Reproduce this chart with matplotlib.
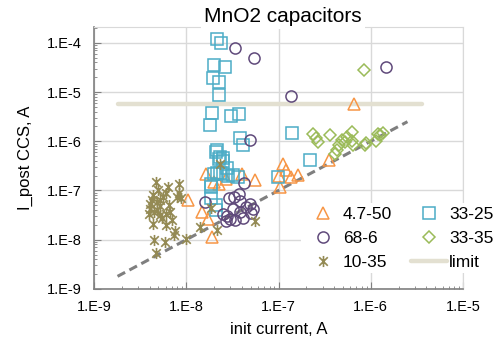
import math
import matplotlib
matplotlib.use('Agg')
import matplotlib.pyplot as plt
from matplotlib.path import Path
from matplotlib.ticker import FixedLocator, FuncFormatter, NullFormatter

plt.rcParams['font.family'] = ['Liberation Sans', 'DejaVu Sans']

# 4.7-50
tri_x = [6.6e-7, 3.56e-7, 1.13e-7, 1.2e-7, 1.0e-7, 1.36e-7, 1.64e-7, 1.04e-7,
         1.64e-8, 2.28e-8, 2.7e-8, 4.0e-8, 5.6e-8, 1.05e-8, 1.47e-8, 1.73e-8,
         1.89e-8, 2.0e-8]
tri_y = [5.7e-6, 4.1e-7, 3.4e-7, 2.57e-7, 1.94e-7, 1.88e-7, 2.03e-7, 1.18e-7,
         2.2e-7, 1.38e-7, 1.74e-7, 2.2e-7, 1.66e-7, 6.3e-8, 3.66e-8, 2.69e-8,
         1.14e-8, 1.49e-7]

# 33-25
sq_x = [2.17e-8, 2.4e-8, 2.0e-8, 2.63e-8, 1.96e-8, 2.25e-8, 2.26e-8, 1.9e-8,
        1.82e-8, 3.05e-8, 3.7e-8, 3.85e-8, 4.1e-8, 1.4e-7, 2.18e-7, 9.95e-8,
        2.14e-8, 2.12e-8, 2.32e-8, 2.48e-8, 2.28e-8, 2.52e-8, 2.74e-8, 2.0e-8,
        2.14e-8, 2.32e-8, 2.52e-8, 2.86e-8, 3.19e-8, 3.67e-8, 1.85e-8, 1.86e-8,
        1.87e-8, 2.1e-8, 2.1e-8]
sq_y = [1.17e-4, 9.8e-5, 3.5e-5, 3.2e-5, 1.89e-5, 1.57e-5, 8.9e-6, 3.7e-6,
        2.17e-6, 3.2e-6, 3.56e-6, 1.16e-6, 8.3e-7, 1.49e-6, 4.1e-7, 1.9e-7,
        6.8e-7, 6.0e-7, 4.9e-7, 4.6e-7, 4.3e-7, 3.95e-7, 2.86e-7, 2.2e-7,
        2.26e-7, 2.26e-7, 2.2e-7, 2.0e-7, 2.1e-7, 1.88e-7, 1.38e-7, 1.15e-7,
        6.9e-8, 5.0e-8, 4.1e-8]

# 68-6
circ_x = [3.4e-8, 5.47e-8, 1.47e-6, 1.37e-7, 4.87e-8, 4.27e-8, 3.76e-8, 3.32e-8,
          2.88e-8, 1.6e-8, 3.83e-8, 4.91e-8, 4.44e-8, 3.19e-8, 3.83e-8, 2.74e-8,
          2.98e-8, 3.38e-8, 2.7e-8, 4.15e-8, 5.33e-8, 5.0e-8, 2.52e-8]
circ_y = [8.0e-5, 5.0e-5, 3.26e-5, 8.3e-6, 1.08e-6, 1.44e-7, 8.4e-8, 7.4e-8,
          6.9e-8, 5.85e-8, 6.0e-8, 5.4e-8, 4.6e-8, 4.16e-8, 3.66e-8, 3.0e-8,
          2.69e-8, 2.57e-8, 2.4e-8, 2.82e-8, 4.3e-8, 3.5e-8, 3.4e-8]

# 33-35
dia_x = [8.4e-7, 2.35e-7, 2.55e-7, 2.66e-7, 3.6e-7, 6.2e-7, 4.84e-7, 6.2e-7,
         4.56e-7, 4.27e-7, 4.1e-7, 6.46e-7, 8.9e-7, 8.6e-7, 1.14e-6, 1.21e-6,
         1.37e-6, 1.26e-6, 5.5e-7, 5.3e-7]
dia_y = [2.83e-5, 1.38e-6, 1.18e-6, 9.6e-7, 1.36e-6, 1.54e-6, 1.08e-6, 1.0e-6,
         8.3e-7, 6.8e-7, 5.6e-7, 8.3e-7, 9.2e-7, 8.3e-7, 1.0e-6, 1.42e-6,
         1.47e-6, 1.32e-6, 1.22e-6, 9.6e-7]

# 10-35
star_x = [4.7e-9, 6.3e-9, 8.3e-9, 6.0e-9, 5.6e-9, 4.3e-9, 4.8e-9, 7.9e-9,
          8.4e-9, 5.2e-9, 4.05e-9, 4.5e-9, 3.98e-9, 5.2e-9, 6.67e-9, 6.95e-9,
          6.1e-9, 7.55e-9, 7.3e-9, 5.9e-9, 4.5e-9, 4.7e-9, 9.9e-9, 4.05e-9,
          4.8e-9, 5.4e-9, 6.1e-9, 5.2e-9, 2.32e-8, 1.84e-8, 1.41e-8, 2.17e-8,
          5.56e-8, 8.8e-9, 5.0e-9, 4.4e-9, 6.5e-9, 4.4e-9]
star_y = [1.49e-7, 1.18e-7, 1.34e-7, 8.9e-8, 7.4e-8, 6.5e-8, 5.85e-8, 7.4e-8,
          8.9e-8, 4.8e-8, 4.3e-8, 3.66e-8, 3.3e-8, 3.16e-8, 3.66e-8, 2.5e-8,
          1.97e-8, 1.5e-8, 1.23e-8, 9.0e-9, 9.8e-9, 5.4e-9, 1.01e-8, 5.4e-8,
          4.0e-8, 2.7e-8, 3.4e-8, 6.3e-8, 3.5e-7, 4.5e-8, 1.82e-8, 1.56e-8,
          2.37e-8, 7.1e-8, 1.0e-7, 8.0e-8, 5.0e-8, 2.1e-8]

limit_x = [1.8e-9, 3.6e-6]
limit_y = [5.6e-6, 5.6e-6]
diag_x = [1.8e-9, 2.5e-6]
diag_y = [1.8e-9, 2.5e-6]

x_ticks = [1e-9, 1e-8, 1e-7, 1e-6, 1e-5]
y_ticks = [1e-9, 1e-8, 1e-7, 1e-6, 1e-5, 1e-4]

# excel-like star: X with a vertical bar
star_marker = Path([(-1, -1), (1, 1), (-1, 1), (1, -1), (0, -1.3), (0, 1.3)],
                   [Path.MOVETO, Path.LINETO, Path.MOVETO, Path.LINETO,
                    Path.MOVETO, Path.LINETO])

fig = plt.figure(figsize=(5, 3.46), dpi=100)
ax = fig.add_axes([0.188, 0.165, 0.738, 0.757])

ax.plot(limit_x, limit_y, color='#e3e0d1', lw=3.2, solid_capstyle='round',
        label='limit', zorder=2)
ax.plot(diag_x, diag_y, color='#7f7f7f', lw=2.2, dashes=(2.8, 1.6), zorder=1)

ms = 8
ax.plot(tri_x, tri_y, ls='none', marker='^', ms=ms, mfc='none', mec='#f79646',
        mew=1.1, label='4.7-50', zorder=3)
ax.plot(sq_x, sq_y, ls='none', marker='s', ms=ms, mfc='none', mec='#4bacc6',
        mew=1.1, label='33-25', zorder=3)
ax.plot(circ_x, circ_y, ls='none', marker='o', ms=ms, mfc='none', mec='#604a7b',
        mew=1.1, label='68-6', zorder=3)
ax.plot(dia_x, dia_y, ls='none', marker='D', ms=6, mfc='none', mec='#9bbb59',
        mew=1.1, label='33-35', zorder=3)
ax.plot(star_x, star_y, ls='none', marker=star_marker, ms=8, mfc='none',
        mec='#948a54', mew=1.2, label='10-35', zorder=3)

ax.set_xscale('log')
ax.set_yscale('log')
ax.set_xlim(1e-9, 1e-5)
ax.set_ylim(1e-9, 2.1e-4)

fmt = FuncFormatter(lambda v, p: '1.E%d' % round(math.log10(v)))
for axis, ticks in ((ax.xaxis, x_ticks), (ax.yaxis, y_ticks)):
    axis.set_major_locator(FixedLocator(ticks))
    minors = [m * t for t in ticks for m in range(2, 10)]
    axis.set_minor_locator(FixedLocator(minors))
    axis.set_major_formatter(fmt)
    axis.set_minor_formatter(NullFormatter())

ax.grid(True, which='major', color='#d9d9d9', lw=1)
ax.set_axisbelow(True)
ax.tick_params(which='both', direction='in', colors='#808080', labelcolor='black',
               labelsize=10.5)
ax.tick_params(which='major', length=5)
ax.tick_params(which='minor', length=2.5)
ax.tick_params(axis='y', which='both', pad=9)
ax.tick_params(axis='x', which='both', pad=8)
for s in ('left', 'bottom'):
    ax.spines[s].set_color('#808080')
    ax.spines[s].set_linewidth(1.2)
for s in ('top', 'right'):
    ax.spines[s].set_color('#d9d9d9')

ax.set_xlabel('init current, A', fontsize=12, labelpad=6)
ax.set_ylabel('I_post CCS, A', fontsize=12, labelpad=10)

fig.text(0.566, 0.952, 'MnO2 capacitors', ha='center', va='center', fontsize=15,
         bbox=dict(facecolor='white', edgecolor='none', pad=2))

h, l = ax.get_legend_handles_labels()
hd = dict(zip(l, h))
# two columns, filled column-first
order = ['4.7-50', '68-6', '10-35', '33-25', '33-35', 'limit']
leg = ax.legend([hd[k] for k in order], order, ncol=2, loc='upper left',
                bbox_to_anchor=(0.602, 0.412), bbox_transform=fig.transFigure,
                frameon=True, facecolor='white', edgecolor='none', framealpha=1,
                fontsize=12.5, handlelength=2.1, columnspacing=1.1,
                labelspacing=0.5, handletextpad=0.1, borderpad=0.2,
                borderaxespad=0)
leg.set_zorder(5)

fig.savefig('out.png', dpi=100)
